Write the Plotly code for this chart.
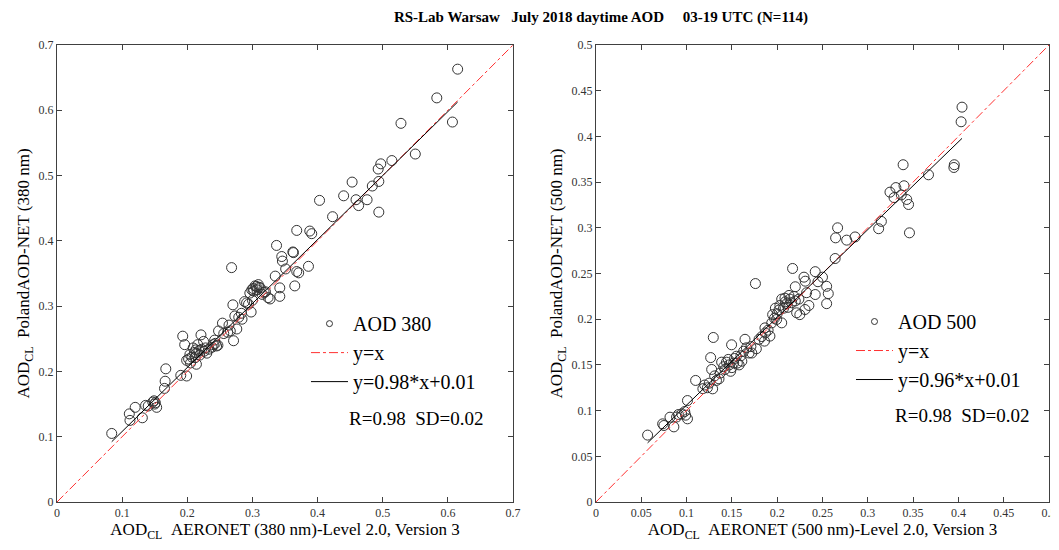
import numpy as np
import plotly.graph_objects as go

# ---------------- data ----------------
aeronet_380 = [0.084,0.111,0.112,0.120,0.131,0.136,0.149,0.153,0.151,0.165,0.166,0.167,0.190,0.193,0.196,0.199,0.199,0.204,0.209,0.214,
               0.212,0.214,0.216,0.221,0.222,0.225,0.230,0.240,0.242,0.245,0.248,0.254,0.262,0.266,0.271,0.270,0.273,0.276,0.284,0.288,
               0.291,0.296,0.298,0.299,0.304,0.307,0.309,0.312,0.324,0.327,0.335,0.342,0.342,0.365,
               0.268,0.337,0.345,0.346,0.351,0.363,0.368,0.368,0.371,0.386,0.388,0.391,0.403,0.423,0.440,0.453,0.459,0.463,0.476,0.484,
               0.493,0.497,0.494,0.494,0.514,0.550,
               0.615,0.583,0.607,0.528,
               0.362,0.301,0.306,0.310,0.207,0.218,0.211,0.219,0.243,0.247,0.238,0.150,0.147,0.264,0.279,0.283,0.294,0.300,0.202,0.205,
               0.228,0.226,0.315,0.318,0.233,0.256,0.140,0.320,0.213,0.302]
poland_380 = [0.105,0.135,0.125,0.145,0.129,0.148,0.155,0.145,0.152,0.174,0.185,0.204,0.194,0.254,0.241,0.193,0.217,0.226,0.236,0.228,
              0.221,0.211,0.241,0.256,0.234,0.246,0.228,0.241,0.248,0.239,0.262,0.274,0.260,0.262,0.247,0.302,0.285,0.265,0.280,0.307,
              0.305,0.320,0.291,0.325,0.331,0.325,0.333,0.328,0.313,0.311,0.346,0.328,0.315,0.331,
              0.359,0.393,0.376,0.369,0.357,0.382,0.416,0.353,0.351,0.361,0.415,0.411,0.462,0.437,0.469,0.490,0.463,0.454,0.463,0.484,
              0.510,0.518,0.491,0.444,0.523,0.533,
              0.663,0.619,0.582,0.580,
              0.383,0.327,0.330,0.329,0.222,0.232,0.229,0.225,0.243,0.240,0.237,0.150,0.153,0.271,0.283,0.289,0.303,0.309,0.219,0.213,
              0.236,0.231,0.318,0.321,0.234,0.258,0.147,0.322,0.233,0.323]

aeronet_500 = [0.339,0.3955,0.395,0.367,0.331,0.340,0.3245,0.329,0.337,0.343,0.345,0.315,0.312,0.346,
               0.404,0.403,
               0.176,0.217,0.220,0.2296,0.231,0.242,0.2325,0.242,0.2546,0.2564,0.2546,0.264,0.2645,0.2667,0.2767,0.286,
               0.205,0.2086,0.214,0.2185,0.203,0.2105,0.2215,0.225,0.2307,0.235,0.195,0.1994,0.194,0.205,0.1865,
               0.057,0.0736,0.075,0.0817,0.086,0.091,0.0946,0.099,0.101,0.101,0.110,0.120,0.123,0.1288,0.1295,0.1266,0.1277,0.133,
               0.1358,0.1387,0.1424,0.144,0.147,0.1497,0.1486,0.152,0.155,0.158,0.161,0.1645,0.166,0.169,0.177,0.186,0.187,0.192,
               0.141,0.146,0.150,0.153,0.156,0.160,0.163,0.171,0.180,0.183,0.190,0.197,0.200,0.202,0.207,0.212,0.216,0.213,0.220,0.224,
               0.098,0.089,0.125,0.131,0.137,0.245,0.250,0.172,0.198,0.209,0.118]
poland_500 = [0.369,0.369,0.366,0.358,0.344,0.346,0.339,0.333,0.336,0.331,0.3255,0.307,0.299,0.2945,
              0.432,0.416,
              0.239,0.2555,0.2355,0.246,0.2416,0.252,0.229,0.227,0.236,0.228,0.217,0.2664,0.289,0.300,0.2865,0.290,
              0.222,0.223,0.222,0.225,0.215,0.217,0.207,0.205,0.2106,0.215,0.205,0.1997,0.196,0.196,0.1905,
              0.0732,0.0855,0.0837,0.0928,0.0822,0.0957,0.0964,0.095,0.091,0.111,0.133,0.128,0.125,0.1238,0.180,0.158,0.145,0.133,
              0.1347,0.153,0.145,0.153,0.150,0.172,0.143,0.152,0.1595,0.150,0.154,0.178,0.1687,0.163,0.1676,0.176,0.185,0.1815,
              0.148,0.156,0.147,0.157,0.152,0.160,0.165,0.170,0.178,0.181,0.188,0.201,0.206,0.210,0.212,0.213,0.218,0.226,0.220,0.222,
              0.099,0.093,0.130,0.138,0.141,0.241,0.246,0.163,0.212,0.219,0.124]

fit_380 = (0.98, 0.01)
fit_500 = (0.96, 0.01)
stats_380 = (0.98, 0.02)
stats_500 = (0.98, 0.02)
range_380 = [0, 0.7]
range_500 = [0, 0.5]
ticks_380 = [0, 0.1, 0.2, 0.3, 0.4, 0.5, 0.6, 0.7]
ticks_500 = [0, 0.05, 0.1, 0.15, 0.2, 0.25, 0.3, 0.35, 0.4, 0.45, 0.5]
n_total = 114

SERIF = "Liberation Serif, Times New Roman, serif"
NB = "\u00a0"

# the page body has an 8px default margin; size the figure to fill the rest of the window
FIG_W, FIG_H = 1051, 542

fig = go.Figure()

def add_panel(xs, ys, fit, rng, name, xa, ya, leg):
    # scatter points (legend shown through a small-marker proxy entry, as in the reference)
    fig.add_trace(go.Scatter(x=xs, y=ys, mode="markers", name=name, showlegend=False,
                             marker=dict(symbol="circle-open", size=10, color="#333333", line=dict(width=1, color="#333333")),
                             xaxis=xa, yaxis=ya, legend=leg))
    fig.add_trace(go.Scatter(x=[None], y=[None], mode="markers", name=name,
                             marker=dict(symbol="circle-open", size=6, color="#333333", line=dict(width=1, color="#333333")),
                             xaxis=xa, yaxis=ya, legend=leg))
    fig.add_trace(go.Scatter(x=rng, y=rng, mode="lines", name="y=x",
                             line=dict(color="#ff3030", width=1, dash="dashdot"),
                             xaxis=xa, yaxis=ya, legend=leg))
    x0, x1 = min(xs), max(xs)
    a, b = fit
    fig.add_trace(go.Scatter(x=[x0, x1], y=[a * x0 + b, a * x1 + b], mode="lines",
                             name=f"y={a:.2f}*x+{b:.2f}",
                             line=dict(color="black", width=1),
                             xaxis=xa, yaxis=ya, legend=leg))

add_panel(aeronet_380, poland_380, fit_380, range_380, "AOD 380", "x", "y", "legend")
add_panel(aeronet_500, poland_500, fit_500, range_500, "AOD 500", "x2", "y2", "legend2")

axis_common = dict(showline=True, linecolor="#404040", linewidth=1, mirror="ticks", ticks="inside",
                   ticklen=5, tickcolor="#404040", showgrid=False, zeroline=False, automargin=False,
                   tickfont=dict(family=SERIF, size=12, color="#333333"))

title_font = dict(family=SERIF, size=17, color="black")
legend_common = dict(xanchor="left", yanchor="top", bgcolor="rgba(0,0,0,0)", itemwidth=37,
                     font=dict(family=SERIF, size=20, color="black"), tracegroupgap=0)

fig.update_layout(
    width=FIG_W, height=FIG_H,
    margin=dict(l=49, r=10, t=37, b=48),
    paper_bgcolor="white", plot_bgcolor="white",
    showlegend=True,
    title=dict(text=f"<b>RS-Lab Warsaw{NB*3}July 2018 daytime AOD{NB*5}03-19 UTC (N={n_total})</b>",
               x=593 / FIG_W, xref="container", xanchor="center", y=1 - 9 / FIG_H, yanchor="middle",
               font=dict(family=SERIF, size=15, color="black")),
    xaxis=dict(domain=[0, 0.4597], range=range_380, tickvals=ticks_380, **axis_common,
               title=dict(text=f"AOD<sub>CL</sub>{NB*2}AERONET (380 nm)-Level 2.0, Version 3", font=title_font, standoff=0)),
    yaxis=dict(domain=[0, 1], range=range_380, tickvals=ticks_380, **axis_common,
               title=dict(text=f"AOD<sub>CL</sub>{NB*2}PolandAOD-NET (380 nm)", font=title_font, standoff=4)),
    xaxis2=dict(domain=[0.5433, 1], range=range_500, tickvals=ticks_500, anchor="y2", **axis_common,
                title=dict(text=f"AOD<sub>CL</sub>{NB*2}AERONET (500 nm)-Level 2.0, Version 3", font=title_font, standoff=0)),
    yaxis2=dict(domain=[0, 1], range=range_500, tickvals=ticks_500, anchor="x2", **axis_common,
                title=dict(text=f"AOD<sub>CL</sub>{NB*2}PolandAOD-NET (500 nm)", font=title_font, standoff=4)),
    legend=dict(x=0.251, y=0.433, **legend_common),
    legend2=dict(x=0.8004, y=0.4376, **legend_common),
)

fig.add_annotation(x=0.2923, y=0.1838, xref="paper", yref="paper", xanchor="left", yanchor="middle", showarrow=False,
                   text=f"R={stats_380[0]:.2f}{NB*2}SD={stats_380[1]:.2f}", font=dict(family=SERIF, size=19, color="black"))
fig.add_annotation(x=0.8427, y=0.1882, xref="paper", yref="paper", xanchor="left", yanchor="middle", showarrow=False,
                   text=f"R={stats_500[0]:.2f}{NB*2}SD={stats_500[1]:.2f}", font=dict(family=SERIF, size=19, color="black"))

fig.write_html("out.html")
